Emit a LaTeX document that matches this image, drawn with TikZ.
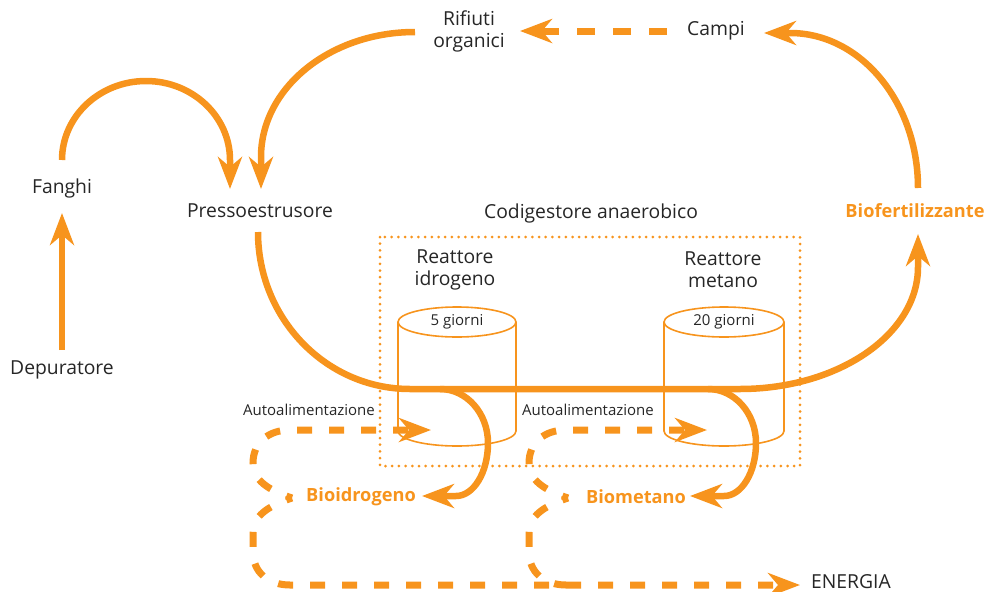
\documentclass[tikz,border=0pt]{standalone}
\usepackage{fontspec}
\setmainfont{Open Sans}
\usetikzlibrary{arrows.meta}
\definecolor{orng}{HTML}{F7941D}
\definecolor{ink}{HTML}{262626}
\begin{document}
\begin{tikzpicture}[x=1pt,y=-1pt,
  lbl/.style={text=ink,font=\fontsize{19.3}{22}\selectfont,align=center,inner sep=0pt},
  small/.style={text=ink,font=\fontsize{15}{17}\selectfont,inner sep=0pt},
  olbl/.style={text=orng,font=\bfseries\fontsize{18.2}{21}\selectfont,inner sep=0pt},
  tipx/.style={-{Stealth[length=32pt,width=24pt,inset=10pt]}},
  flow/.style={draw=orng,line width=6.5pt,tipx},
  dflow/.style={draw=orng,line width=7pt,dash pattern=on 15pt off 17pt},
  cyl/.style={draw=orng,line width=1.6pt},
  dotbox/.style={draw=orng,line width=3pt,line cap=round,dash pattern=on 0pt off 6.7pt}
]
\useasboundingbox (0,0) rectangle (986,592);

% texts
\node[lbl] (rifiuti) at (469,31) {Rifiuti\\organici};
\node[lbl] (campi) at (716,31) {Campi};
\node[lbl] (fanghi) at (62,188) {Fanghi};
\node[lbl] (depur) at (62,370) {Depuratore};
\node[lbl] (presso) at (260,211) {Pressoestrusore};
\node[lbl] (codig) at (591,213) {Codigestore anaerobico};
\node[olbl] (biofert) at (915,211) {Biofertilizzante};
\node[lbl] (reatH) at (455,270) {Reattore\\idrogeno};
\node[lbl] (reatM) at (723,270) {Reattore\\metano};
\node[small] (g5) at (457,322) {5 giorni};
\node[small] (g20) at (724,322) {20 giorni};
\node[small] (auto1) at (309,410) {Autoalimentazione};
\node[small] (auto2) at (588,410) {Autoalimentazione};
\node[olbl] (bioH) at (361,497) {Bioidrogeno};
\node[olbl] (bioM) at (636,497) {Biometano};
\node[lbl,anchor=west] (energia) at (811,582) {ENERGIA};

% dotted box
\draw[dotbox] (380,237) rectangle (800,466);

% cylinders
\draw[cyl] (457,322) ellipse [x radius=59pt, y radius=15pt];
\draw[cyl] (398,322) -- (398,431) .. controls (398,439.3) and (424.4,446) .. (457,446)
  .. controls (489.6,446) and (516,439.3) .. (516,431) -- (516,322);
\draw[cyl] (724,322) ellipse [x radius=60pt, y radius=15pt];
\draw[cyl] (664,322) -- (664,431) .. controls (664,439.3) and (690.9,446) .. (724,446)
  .. controls (757.1,446) and (784,439.3) .. (784,431) -- (784,322);

% coordinates
\coordinate (dpT) at (62,350);
\coordinate (fgB) at (62,213);
\coordinate (fgS) at (62,160);
\coordinate (fgT) at (146,81);
\coordinate (fgE) at (230,160);
\coordinate (prL) at (230,189);
\coordinate (rfS) at (415,32);
\coordinate (rfE) at (261,157);
\coordinate (prR) at (261,189);
\coordinate (bfS) at (918,188);
\coordinate (cpE) at (790,33);
\coordinate (cpT) at (764,33);
\coordinate (cpD) at (667,31);
\coordinate (rfD) at (520,31);
\coordinate (m0) at (258,232);
\coordinate (m1) at (410,389);
\coordinate (m2) at (740,389);
\coordinate (m3) at (918,267);
\coordinate (m4) at (918,234);
\coordinate (hA) at (440,389);
\coordinate (hB) at (488,443);
\coordinate (hC) at (456,496);
\coordinate (hT) at (422,496);
\coordinate (kA) at (708,389);
\coordinate (kB) at (756,443);
\coordinate (kC) at (724,496);
\coordinate (kT) at (690,496);
\coordinate (dH) at (292,498);
\coordinate (aH) at (431,430);
\coordinate (dM) at (568,498);
\coordinate (aM) at (707,430);
\coordinate (eT) at (800,585);

% solid flows
\draw[flow] (dpT) -- (fgB);
\draw[flow] (fgS) .. controls (62,116.4) and (99.6,81) .. (fgT)
  .. controls (192.4,81) and (230,116.4) .. (fgE) -- (prL);
\draw[flow] (rfS) .. controls (330,32) and (261,88) .. (rfE) -- (prR);
\draw[flow] (bfS) .. controls (918,102.4) and (860.7,33) .. (cpE) -- (cpT);
\draw[flow] (m0) .. controls (258,318.7) and (326.1,389) .. (m1) -- (m2)
  .. controls (838.3,389) and (918,334.3) .. (m3) -- (m4);
\draw[flow] (hA) .. controls (466.5,389) and (488,413.2) .. (hB)
  .. controls (488,472.3) and (473.7,496) .. (hC) -- (hT);
\draw[flow] (kA) .. controls (734.5,389) and (756,413.2) .. (kB)
  .. controls (756,472.3) and (741.7,496) .. (kC) -- (kT);

% dashed flows
\draw[dflow,tipx,dash pattern=on 18pt off 18pt] (cpD) -- (rfD);
\draw[dflow,tipx,dash phase=9pt] (dH) .. controls (268,490) and (253,480) .. (253,463)
  .. controls (253,443) and (268,430) .. (290,430) -- (aH);
\draw[dflow,tipx,dash phase=9pt] (dH) .. controls (268,506) and (253,516) .. (253,533)
  -- (253,552) .. controls (253,572) and (268,585) .. (290,585) -- (eT);
\draw[dflow,tipx,dash phase=9pt] (dM) .. controls (544,490) and (529,480) .. (529,463)
  .. controls (529,443) and (544,430) .. (566,430) -- (aM);
\draw[dflow,dash phase=9pt] (dM) .. controls (544,506) and (529,516) .. (529,533)
  -- (529,552) .. controls (529,572) and (544,585) .. (566,585);
\end{tikzpicture}
\end{document}
